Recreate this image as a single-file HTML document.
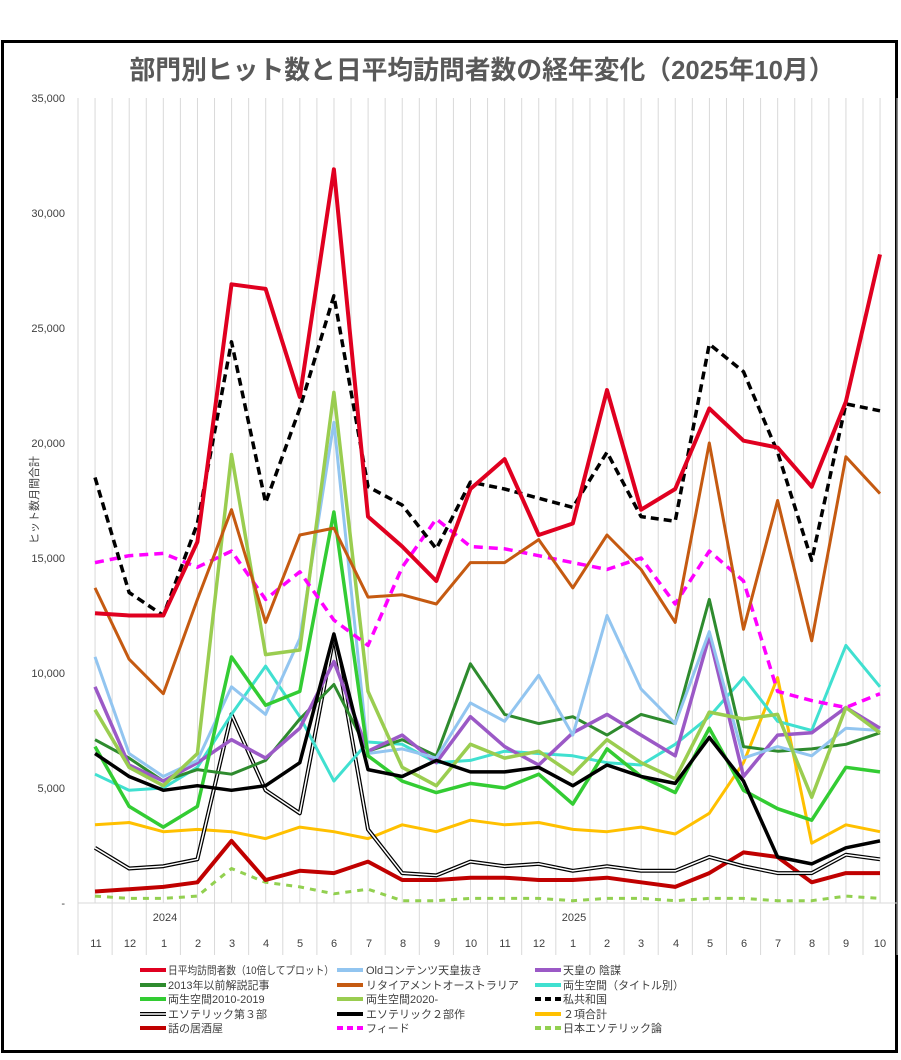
<!DOCTYPE html>
<html><head><meta charset="utf-8"><style>
body{margin:0;background:#fff;width:901px;height:1060px;overflow:hidden}
svg{display:block}
text{font-family:"Liberation Sans","Noto Sans CJK JP",sans-serif;fill:#404040}
</style></head><body>
<svg id="s" width="901" height="1060" xmlns="http://www.w3.org/2000/svg">
<rect x="0" y="0" width="901" height="1060" fill="#fff"/>
<rect x="2.5" y="41.5" width="894" height="1010" fill="#fff" stroke="#000" stroke-width="3"/>
<text x="482" y="79" text-anchor="middle" font-size="26" font-weight="bold" style="fill:#595959" textLength="705" lengthAdjust="spacingAndGlyphs">部門別ヒット数と日平均訪問者数の経年変化（2025年10月）</text>
<g id="grid"></g>
<g font-size="11" text-anchor="end">
<text x="65" y="102">35,000</text><text x="65" y="217">30,000</text><text x="65" y="332">25,000</text>
<text x="65" y="447">20,000</text><text x="65" y="562">15,000</text><text x="65" y="677">10,000</text>
<text x="65" y="792">5,000</text><text x="65" y="907">-</text>
</g>
<text transform="translate(38,500) rotate(-90)" text-anchor="middle" font-size="11">ヒット数月間合計</text>
<g font-size="11" text-anchor="middle">
<text x="165" y="921">2024</text><text x="574" y="921">2025</text>
<text x="96" y="947">11</text><text x="130" y="947">12</text><text x="164" y="947">1</text><text x="198" y="947">2</text>
<text x="232" y="947">3</text><text x="266" y="947">4</text><text x="300" y="947">5</text><text x="334" y="947">6</text>
<text x="369" y="947">7</text><text x="403" y="947">8</text><text x="437" y="947">9</text><text x="471" y="947">10</text>
<text x="505" y="947">11</text><text x="539" y="947">12</text><text x="573" y="947">1</text><text x="607" y="947">2</text>
<text x="641" y="947">3</text><text x="676" y="947">4</text><text x="710" y="947">5</text><text x="744" y="947">6</text>
<text x="778" y="947">7</text><text x="812" y="947">8</text><text x="846" y="947">9</text><text x="880" y="947">10</text>
</g>
<g id="lines" fill="none" stroke-linejoin="round"></g>
<g font-size="11">
<text x="168" y="974" textLength="166" lengthAdjust="spacingAndGlyphs">日平均訪問者数（10倍してプロット）</text>
<text x="168" y="989">2013年以前解説記事</text>
<text x="168" y="1003">両生空間2010-2019</text>
<text x="168" y="1018">エソテリック第３部</text>
<text x="168" y="1032">話の居酒屋</text>
<text x="366" y="974">Oldコンテンツ天皇抜き</text>
<text x="366" y="989">リタイアメントオーストラリア</text>
<text x="366" y="1003">両生空間2020-</text>
<text x="366" y="1018">エソテリック２部作</text>
<text x="366" y="1032">フィード</text>
<text x="563" y="974">天皇の 陰謀</text>
<text x="563" y="989">両生空間（タイトル別）</text>
<text x="563" y="1003">私共和国</text>
<text x="563" y="1018">２項合計</text>
<text x="563" y="1032">日本エソテリック論</text>
</g>
<g id="leg" fill="none"></g>
</svg>
<script>
const NS="http://www.w3.org/2000/svg";
function el(p,t,a){const e=document.createElementNS(NS,t);for(const k in a)e.setAttribute(k,a[k]);p.appendChild(e);return e;}
const g=document.getElementById('grid');
const X0=78,W=34.13;
for(let i=0;i<=48;i++){const x=X0+i*W/2;el(g,'line',{x1:x,y1:98,x2:x,y2:903,stroke:'#d9d9d9','stroke-width':1});}
for(let i=0;i<=24;i++){const x=X0+i*W;el(g,'line',{x1:x,y1:903,x2:x,y2:955,stroke:'#d9d9d9','stroke-width':1});}
el(g,'line',{x1:X0,y1:903,x2:897,y2:903,stroke:'#d9d9d9'});
const Y=v=>903-23*v;
const D=[
['#92d050',3,'6,6',[0.3,0.2,0.2,0.3,1.5,0.9,0.7,0.4,0.6,0.1,0.1,0.2,0.2,0.2,0.1,0.2,0.2,0.1,0.2,0.2,0.1,0.1,0.3,0.2]],
['#c00000',4,'',[0.5,0.6,0.7,0.9,2.7,1.0,1.4,1.3,1.8,1.0,1.0,1.1,1.1,1.0,1.0,1.1,0.9,0.7,1.3,2.2,2.0,0.9,1.3,1.3]],
['#ffc000',3,'',[3.4,3.5,3.1,3.2,3.1,2.8,3.3,3.1,2.8,3.4,3.1,3.6,3.4,3.5,3.2,3.1,3.3,3.0,3.9,6.1,9.8,2.6,3.4,3.1]],
['DBL',0,'',[2.4,1.5,1.6,1.9,8.2,4.9,3.9,11.6,3.2,1.3,1.2,1.8,1.6,1.7,1.4,1.6,1.4,1.4,2.0,1.6,1.3,1.3,2.1,1.9]],
['#40e0d0',3,'',[5.6,4.9,5.0,5.9,8.2,10.3,8.1,5.3,7.0,6.9,6.1,6.2,6.6,6.5,6.4,6.1,6,6.9,8.1,9.8,7.9,7.5,11.2,9.4]],
['#2e8b2e',3,'',[7.1,6.3,5.3,5.8,5.6,6.2,8,9.5,6.6,7.1,6.4,10.4,8.2,7.8,8.1,7.3,8.2,7.8,13.2,6.8,6.6,6.7,6.9,7.4]],
['#9b59c6',3.5,'',[9.4,6.0,5.3,6.1,7.1,6.3,7.6,10.5,6.6,7.3,6.1,8.1,6.8,6.0,7.4,8.2,7.3,6.4,11.6,5.5,7.3,7.4,8.5,7.6]],
['#92c5f0',3,'',[10.7,6.5,5.5,6.2,9.4,8.2,11.5,20.9,6.5,6.7,6.3,8.7,7.9,9.9,7.3,12.5,9.3,7.8,11.8,6.3,6.8,6.4,7.6,7.5]],
['#9acd50',3.5,'',[8.4,5.9,5.1,6.5,19.5,10.8,11,22.2,9.2,5.9,5.1,6.9,6.3,6.6,5.6,7.1,6.1,5.4,8.3,8.0,8.2,4.6,8.5,7.4]],
['#33cc33',3.5,'',[6.8,4.2,3.3,4.2,10.7,8.6,9.2,17,6.4,5.3,4.8,5.2,5,5.6,4.3,6.7,5.5,4.8,7.6,4.9,4.1,3.6,5.9,5.7]],
['#000',3.5,'',[6.5,5.5,4.9,5.1,4.9,5.1,6.1,11.7,5.8,5.5,6.2,5.7,5.7,5.9,5.1,6.0,5.5,5.2,7.2,5.3,2.0,1.7,2.4,2.7]],
['#ff00ff',3.5,'9,6',[14.8,15.1,15.2,14.6,15.3,13.2,14.4,12.3,11.2,14.6,16.7,15.5,15.4,15.1,14.8,14.5,15,13,15.3,14,9.2,8.8,8.5,9.1]],
['#c55a11',3,'',[13.7,10.6,9.1,13.2,17.1,12.2,16,16.3,13.3,13.4,13,14.8,14.8,15.8,13.7,16,14.5,12.2,20,11.9,17.5,11.4,19.4,17.8]],
['#000',3.5,'8,5',[18.5,13.5,12.5,16.5,24.4,17.4,21.5,26.4,18.1,17.3,15.4,18.3,18,17.6,17.2,19.6,16.8,16.6,24.3,23.1,19.6,14.9,21.7,21.4]],
['#e00020',4,'',[12.6,12.5,12.5,15.7,26.9,26.7,22,31.9,16.8,15.5,14,18,19.3,16,16.5,22.3,17.1,18,21.5,20.1,19.8,18.1,21.8,28.2]]
];
const L=document.getElementById('lines');
D.forEach(([c,w,d,v])=>{
 const pts=v.map((y,i)=>(95+i*W).toFixed(1)+','+Y(y).toFixed(1)).join(' ');
 if(c==='DBL'){el(L,'polyline',{points:pts,stroke:'#000','stroke-width':4});el(L,'polyline',{points:pts,stroke:'#fff','stroke-width':1.5});}
 else{const a={points:pts,stroke:c,'stroke-width':w};if(d)a['stroke-dasharray']=d;el(L,'polyline',a);}
});
const lg=document.getElementById('leg');
const items=[[140,970,'#e00020',''],[140,985,'#2e8b2e',''],[140,999,'#33cc33',''],[140,1014,'DBL',''],[140,1028,'#c00000',''],
[337,970,'#92c5f0',''],[337,985,'#c55a11',''],[337,999,'#9acd50',''],[337,1014,'#000',''],[337,1028,'#ff00ff','6,4'],
[535,970,'#9b59c6',''],[535,985,'#40e0d0',''],[535,999,'#000','6,4'],[535,1014,'#ffc000',''],[535,1028,'#92d050','6,4']];
items.forEach(([x,y,c,d])=>{
 if(c==='DBL'){el(lg,'line',{x1:x,y1:y,x2:x+26,y2:y,stroke:'#000','stroke-width':4});el(lg,'line',{x1:x,y1:y,x2:x+26,y2:y,stroke:'#fff','stroke-width':1.5});}
 else{const a={x1:x,y1:y,x2:x+26,y2:y,stroke:c,'stroke-width':4};if(d)a['stroke-dasharray']=d;el(lg,'line',a);}
});
</script>
</body></html>
